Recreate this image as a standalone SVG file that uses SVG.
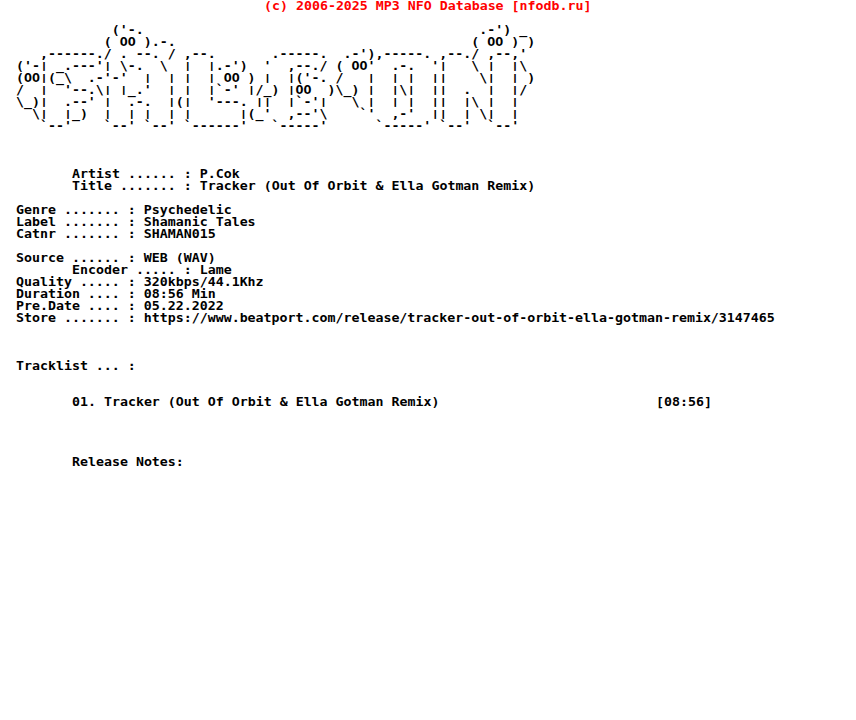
<svg xmlns="http://www.w3.org/2000/svg" width="856" height="720" viewBox="0 0 856 720">
<style>
text{font-family:"DejaVu Sans Mono","Liberation Mono",monospace;font-size:11.5px;font-weight:700;fill:#000;white-space:pre}
.r{fill:#f00}
.p text{font-size:9px}
</style>
<rect width="856" height="720" fill="#fff"/>
<g transform="scale(1.15547 1)">
<text class="r" x="228.48" y="10" xml:space="preserve">(c) 2006-2025 MP3 NFO Database [nfodb.ru]</text>
<g id="art">
<text x="13.85" y="34" xml:space="preserve">            ('-.                                          .-') _</text>
<text x="13.85" y="46" xml:space="preserve">           ( OO ).-.                                     ( OO ) )</text>
<text x="13.85" y="58" xml:space="preserve">   ,------./ . --. / ,--.       .-----.  .-'),-----. ,--./ ,--,'</text>
<text x="13.85" y="70" xml:space="preserve">('-  _.---'  \-.  \      .-')  '  ,--./ ( OO'  .-.  '    \     \</text>
<text x="13.85" y="82" xml:space="preserve">(OO (_\  .-'-'            OO )     ('-. /                 \     )</text>
<text x="13.85" y="94" xml:space="preserve">/     '--.\   _.'        `-'  /_)  OO  )\_)     \       .      /</text>
<text x="13.85" y="106" xml:space="preserve">\_)   .--'    .-.   (   '---.      `-'    \              \</text>
<text x="13.85" y="118" xml:space="preserve">  \    _)                    (_'  ,--'\    `'  ,-'        \</text>
<text x="13.85" y="130" xml:space="preserve">   `--'    `--' `--' `------'   `-----'      `-----' `--'  `--'</text>
</g>
</g>
<g class="p" id="bars" transform="scale(1.4765 1)">
<text x="10.84" y="69" xml:space="preserve">   |       |         |  |                            |     |  |</text>
<text x="10.84" y="81" xml:space="preserve">   |            |  | |  |      |  |         |  | |  ||     |  |</text>
<text x="10.84" y="93" xml:space="preserve">   |       | |     | |  |    |    |         |  | |  ||     |  |</text>
<text x="10.84" y="105" xml:space="preserve">   |       |       | |        ||  |   |     |  | |  ||  |  |  |</text>
<text x="10.84" y="117" xml:space="preserve">   |  |    |  | |  | |      |                       ||  |  |  |</text>
</g>
<g transform="scale(1.15547 1)">
<g id="info">
<text x="62.31" y="178">Artist ...... : P.Cok</text>
<text x="62.31" y="190">Title ....... : Tracker (Out Of Orbit &amp; Ella Gotman Remix)</text>
<text x="13.85" y="214">Genre ....... : Psychedelic</text>
<text x="13.85" y="226">Label ....... : Shamanic Tales</text>
<text x="13.85" y="238">Catnr ....... : SHAMAN015</text>
<text x="13.85" y="262">Source ...... : WEB (WAV)</text>
<text x="62.31" y="274">Encoder ..... : Lame</text>
<text x="13.85" y="286">Quality ..... : 320kbps/44.1Khz</text>
<text x="13.85" y="298">Duration .... : 08:56 Min</text>
<text x="13.85" y="310">Pre.Date .... : 05.22.2022</text>
<text x="13.85" y="322">Store ....... : https://www.beatport.com/release/tracker-out-of-orbit-ella-gotman-remix/3147465</text>
<text x="13.85" y="370">Tracklist ... :</text>
<text x="62.31" y="406">01. Tracker (Out Of Orbit &amp; Ella Gotman Remix)</text>
<text x="567.73" y="406">[08:56]</text>
<text x="62.31" y="466">Release Notes:</text>
</g>
</g>
</svg>
